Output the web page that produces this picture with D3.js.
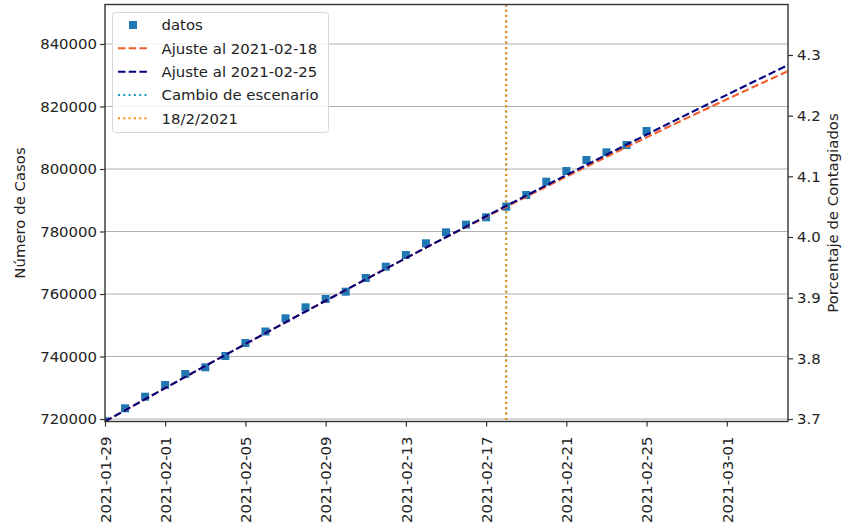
<!DOCTYPE html>
<html><head><meta charset="utf-8">
<script src="https://cdn.jsdelivr.net/npm/d3@7"></script>
<style>body{margin:0;background:#fff}svg{display:block}text{font-family:"DejaVu Sans",sans-serif}</style>
</head><body><svg id="c" width="843" height="524"></svg>
<script>
// ---- data ----
const dataDates = ["2021-01-29","2021-01-30","2021-01-31","2021-02-01","2021-02-02","2021-02-03","2021-02-04","2021-02-05","2021-02-06","2021-02-07","2021-02-08","2021-02-09","2021-02-10","2021-02-11","2021-02-12","2021-02-13","2021-02-14","2021-02-15","2021-02-16","2021-02-17","2021-02-18","2021-02-19","2021-02-20","2021-02-21","2021-02-22","2021-02-23","2021-02-24","2021-02-25"];
const dataCases = [719300,723420,727140,730880,734400,736540,740160,744320,748000,752220,755740,758400,760740,765120,768740,772480,776220,779740,782200,784540,787940,791680,795940,799360,802880,805340,807680,812160];
const fitDates = ["2021-01-29","2021-02-03","2021-02-08","2021-02-13","2021-02-18","2021-02-23","2021-02-28","2021-03-05"];
const fit18 = [719200,736980,754400,771470,787900,803900,819300,834100];
const fit25 = [719200,736980,754400,771470,788200,804560,820570,836220];
const vlineDate = "2021-02-18";
const cambioDate = "2021-02-18";
const xTicks = ["2021-01-29","2021-02-01","2021-02-05","2021-02-09","2021-02-13","2021-02-17","2021-02-21","2021-02-25","2021-03-01"];
const yTicks = [720000,740000,760000,780000,800000,820000,840000];
const y2Ticks = [3.7,3.8,3.9,4.0,4.1,4.2,4.3];
const legendLabels = ["datos","Ajuste al 2021-02-18","Ajuste al 2021-02-25","Cambio de escenario","18/2/2021"];

// ---- layout ----
const svg = d3.select("#c");
const L = 105, R = 788, T = 4.5, B = 421.5;
const parse = d3.utcParse("%Y-%m-%d");
const x = d3.scaleUtc().domain([parse("2021-01-29"), new Date(Date.UTC(2021,2,4,1,12))]).range([L, R]);
const y = d3.scaleLinear().domain([719200, 852640]).range([B, T]);
const y2 = d3.scaleLinear().domain([3.69588, 4.3832]).range([B, T]);
const FS = "14.9px";
const cOrange = "#f25c2a", cNavy = "#000080", cData = "#1f77b4", cTeal = "#1f9bb5", cVline = "#ff8c00";

svg.append("defs").append("clipPath").attr("id","clip").append("rect")
  .attr("x", L).attr("y", T).attr("width", R-L).attr("height", B-T);

// grid
svg.append("g").selectAll("line").data(yTicks).join("line")
  .attr("x1", L).attr("x2", R).attr("y1", d=>y(d)).attr("y2", d=>y(d))
  .attr("stroke", "#b0b0b0").attr("stroke-width", 1);

const plot = svg.append("g").attr("clip-path","url(#clip)");

// vertical lines
plot.append("line").attr("x1", x(parse(cambioDate))).attr("x2", x(parse(cambioDate)))
  .attr("y1", T).attr("y2", B).attr("stroke", cTeal).attr("stroke-width", 2).attr("stroke-dasharray","2,3.3");
plot.append("line").attr("x1", x(parse(vlineDate))).attr("x2", x(parse(vlineDate)))
  .attr("y1", T).attr("y2", B).attr("stroke", cVline).attr("stroke-width", 2).attr("stroke-dasharray","2,3.3");

// data squares
const sz = 8;
plot.append("g").selectAll("rect").data(dataDates.map((d,i)=>({d:parse(d), v:dataCases[i]}))).join("rect")
  .attr("x", d=>x(d.d)-sz/2).attr("y", d=>y(d.v)-sz/2).attr("width", sz).attr("height", sz)
  .attr("fill", cData);

// fit lines
const line = d3.line().curve(d3.curveMonotoneX).x(d=>x(d[0])).y(d=>y(d[1]));
plot.append("path").datum(fitDates.map((d,i)=>[parse(d), fit18[i]])).attr("d", line)
  .attr("fill","none").attr("stroke", cOrange).attr("stroke-width", 2.1).attr("stroke-dasharray","7.5,3.2");
plot.append("path").datum(fitDates.map((d,i)=>[parse(d), fit25[i]])).attr("d", line)
  .attr("fill","none").attr("stroke", cNavy).attr("stroke-width", 2.1).attr("stroke-dasharray","7.5,3.2");

// axes
const fmtTick = d3.utcFormat("%Y-%m-%d");
const gx = svg.append("g").attr("transform", `translate(0,${B})`)
  .call(d3.axisBottom(x).tickValues(xTicks.map(parse)).tickFormat(fmtTick).tickSize(5).tickSizeOuter(0));
gx.selectAll("text").attr("transform","rotate(-90)").attr("text-anchor","end")
  .attr("x", -15).attr("y", 0).attr("dy","0.35em").style("font-size", FS).attr("fill","#222");

const gy = svg.append("g").attr("transform", `translate(${L},0)`)
  .call(d3.axisLeft(y).tickValues(yTicks).tickFormat(d3.format("d")).tickSize(5).tickSizeOuter(0));
gy.selectAll("text").style("font-size", FS).attr("fill","#222").attr("x",-8);

const gy2 = svg.append("g").attr("transform", `translate(${R},0)`)
  .call(d3.axisRight(y2).tickValues(y2Ticks).tickFormat(d3.format(".1f")).tickSize(5).tickSizeOuter(0));
gy2.selectAll("text").style("font-size", FS).attr("fill","#222").attr("x",9);

[gx,gy,gy2].forEach(g=>{ g.select(".domain").remove(); g.selectAll(".tick line").attr("stroke","#333").attr("stroke-width",1.2); });

// spines
svg.append("rect").attr("x", L).attr("y", T).attr("width", R-L).attr("height", B-T)
  .attr("fill","none").attr("stroke","#333").attr("stroke-width",1.4);

// axis labels
svg.append("text").attr("transform", `translate(25,${(T+B)/2}) rotate(-90)`).attr("text-anchor","middle")
  .style("font-size", FS).attr("fill","#222").text("Número de Casos");
svg.append("text").attr("transform", `translate(833,${(T+B)/2}) rotate(-90)`).attr("text-anchor","middle")
  .attr("dy","0.35em").style("font-size", FS).attr("fill","#222").text("Porcentaje de Contagiados");

// legend
const lg = svg.append("g");
lg.append("rect").attr("x",112.5).attr("y",12.5).attr("width",216).attr("height",120).attr("rx",3)
  .attr("fill","rgba(255,255,255,0.85)").attr("stroke","#d6d6d6").attr("stroke-width",1);
const rowY = [25, 48.3, 71.7, 95, 118.3];
const hx0 = 118, hx1 = 148;
lg.append("rect").attr("x", 133-4).attr("y", rowY[0]-4).attr("width",8).attr("height",8).attr("fill", cData);
const handles = [[cOrange,"7.5,3.2",2.1],[cNavy,"7.5,3.2",2.1],[cTeal,"2,3.3",2],[cVline,"2,3.3",2]];
handles.forEach((h,i)=>{
  lg.append("line").attr("x1",hx0).attr("x2",hx1).attr("y1",rowY[i+1]).attr("y2",rowY[i+1])
    .attr("stroke",h[0]).attr("stroke-dasharray",h[1]).attr("stroke-width",h[2]);
});
lg.selectAll("text.l").data(legendLabels).join("text").attr("class","l")
  .attr("x",161.5).attr("y",(d,i)=>rowY[i]).attr("dy","0.35em").style("font-size",FS).attr("fill","#222").text(d=>d);
</script></body></html>
